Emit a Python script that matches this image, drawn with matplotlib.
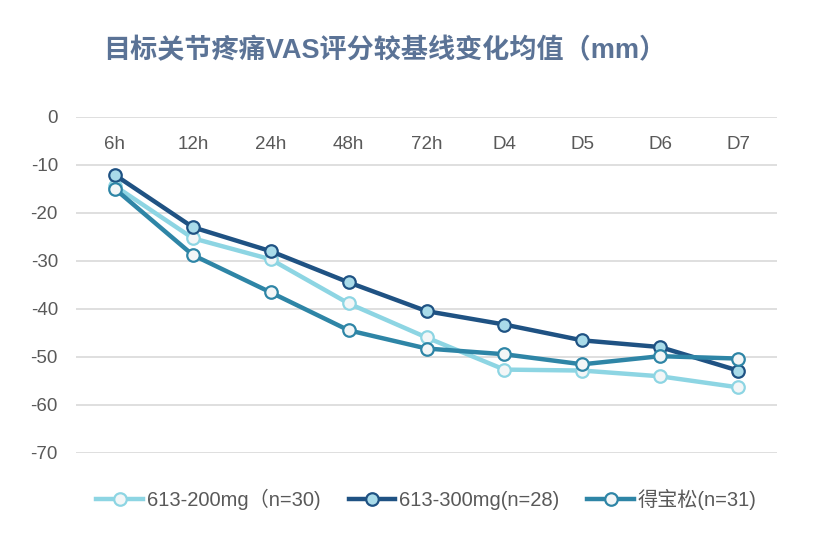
import numpy as np
import matplotlib.pyplot as plt

plt.rcParams['font.family'] = ['Liberation Sans', 'Noto Sans CJK SC', 'DejaVu Sans']
plt.rcParams['axes.unicode_minus'] = False

# Time points and mean change from baseline in VAS (mm)
timepoints = ['6h', '12h', '24h', '48h', '72h', 'D4', 'D5', 'D6', 'D7']
dose_200 = [-14.4, -25.3, -29.7, -38.9, -46.0, -52.7, -52.9, -54.1, -56.4]
dose_300 = [-12.1, -23.0, -28.0, -34.5, -40.5, -43.3, -46.6, -48.0, -52.9]
betamethasone = [-15.0, -28.8, -36.6, -44.5, -48.3, -49.5, -51.6, -49.9, -50.4]

labels = ['613-200mg（n=30)', '613-300mg(n=28)', '得宝松(n=31)']
line_colors = ['#8dd5e3', '#1f5283', '#2e85a6']
face_colors = ['#f3f6f7', '#a9dbe9', '#f3f6f7']
series = [dose_200, dose_300, betamethasone]

fig = plt.figure(figsize=(8.31, 5.33), dpi=100)
ax = fig.add_axes([0.0915, 0.151, 0.8435, 0.6295])

x = np.arange(len(timepoints))
for vals, lab, lc, fc in zip(series, labels, line_colors, face_colors):
    ax.plot(x, vals, color=lc, lw=3.2, marker='o', ms=9, mfc=fc, mec=lc,
            mew=1.6, label=lab, zorder=3)

ax.set_xlim(-0.5, len(timepoints) - 0.5)
ax.set_ylim(-70, 0)
ax.set_yticks(np.arange(-70, 1, 10))
ax.yaxis.grid(True, color='#d9d9d9', lw=1.2)
ax.set_axisbelow(True)
for s in ax.spines.values():
    s.set_visible(False)
ax.tick_params(axis='y', length=0, pad=13, labelsize=13.5, labelcolor='#595959')

# category labels sit just under the zero line
ax.set_xticks([])
for i, t in enumerate(timepoints):
    ax.text(i, -5.7, t, ha='center', va='center', fontsize=13.5, color='#595959')

fig.text(0.463, 0.905, '目标关节疼痛VAS评分较基线变化均值（mm）', ha='center', va='center',
         fontsize=19.5, fontweight='bold', color='#5b7396')

leg = ax.legend(loc='upper center', bbox_to_anchor=(0.5, -0.055), ncol=3, frameon=False,
                fontsize=14.5, handlelength=2.3, handletextpad=0.2, columnspacing=1.4)
for t in leg.get_texts():
    t.set_color('#595959')

fig.savefig('out.png', dpi=100, facecolor='white')
